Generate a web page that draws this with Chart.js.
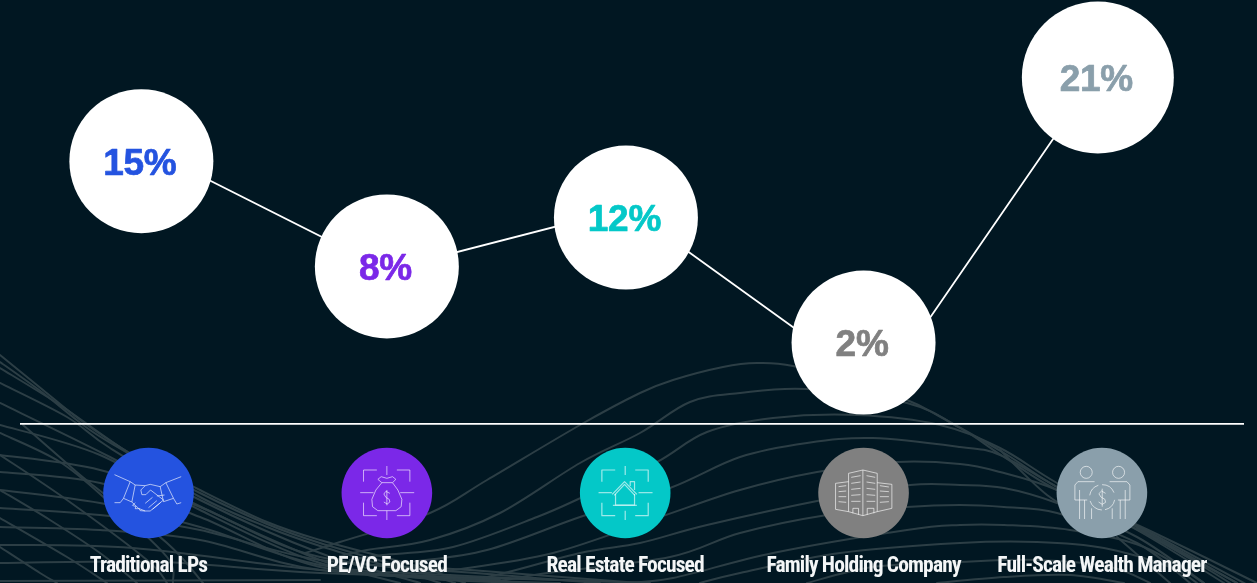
<!DOCTYPE html>
<html>
<head>
<meta charset="utf-8">
<style>html,body{margin:0;padding:0;background:#011722;overflow:hidden}#wrap{width:1257px;height:583px;position:relative}</style>
<script src="https://cdn.jsdelivr.net/npm/chart.js@4"></script>
</head>
<body>
<div id="wrap"><canvas id="c" width="1257" height="583"></canvas></div>
<script>
const categories = ['Traditional LPs','PE/VC Focused','Real Estate Focused','Family Holding Company','Full-Scale Wealth Manager'];
const percentValues = [15, 8, 12, 2, 21];
// The source is a hand-placed infographic: heights read off the picture, not strictly proportional to the printed percentages.
const bubbleHeights = [15, 7.45, 10.96, 2, 21];
const bubbleSlots = [-0.03, 1, 2.003, 3, 3.983];
// The connecting line does not run through the bubble centres in the source, so its vertices are read separately.
const lineHeights = [16.09, 7.2, 11.64, -1.4, 21.25];
const lineSlots = [-0.03, 1.003, 2.01, 3.07, 3.983];
const bubbleRadii = [72, 72, 72, 72, 76];
const seriesColors = ['#2453e0','#7b28e8','#04c8c8','#808080','#8a9fab'];

const BG = '#011722', WAVE = '#2c3e45';
const waves = [
[[305,553],[340,542],[430,513],[487,480],[580,425],[640,393],[673,380],[723,367],[757,363],[793,366],[860,385],[907,400],[937,415],[1004,453],[1057,487],[1137,527],[1237,583]],
[[340,556],[367,550],[430,540],[500,513],[580,463],[640,433],[690,402],[740,393],[807,389],[907,403],[960,428],[1004,457],[1057,490],[1144,528],[1257,583]],
[[350,560],[383,555],[453,547],[537,517],[587,495],[657,462],[707,432],[773,418],[857,415],[940,425],[1000,448],[1057,483],[1140,527],[1257,590]],
[[380,566],[410,562],[487,550],[580,517],[670,488],[740,457],[807,443],[873,438],[960,447],[1000,455],[1057,487],[1144,533],[1237,583]],
[[420,573],[453,570],[553,553],[660,517],[740,490],[817,472],[897,462],[960,464],[1000,472],[1057,490],[1137,530],[1224,583]],
[[440,579],[487,577],[580,553],[640,543],[707,525],[827,499],[910,485],[960,485],[1004,488],[1057,503],[1137,537],[1204,583]],
[[500,581],[547,573],[670,557],[740,533],[827,515],[907,507],[960,505],[1004,507],[1057,513],[1137,543],[1190,583]],
[[620,583],[673,578],[773,553],[907,530],[960,525],[1004,525],[1070,530],[1144,547],[1204,583]],
[[700,583],[740,573],[840,553],[960,543],[1037,542],[1104,548],[1170,567],[1197,583]],
[[807,583],[873,567],[960,562],[1037,560],[1110,567],[1150,583]],
[[937,583],[1004,577],[1070,575],[1124,583]],
[[1000,450],[1047,495],[1090,520]],
[[1117,537],[1170,583]],
[[1137,528],[1204,567],[1230,583]],
[[0,355],[43,390],[83,422],[133,455],[200,490],[267,522],[320,540],[420,567],[465,583]],
[[0,362],[43,393],[90,430],[140,460],[200,493],[267,524],[320,543],[420,572],[455,583]],
[[0,368],[60,405],[120,447],[200,497],[267,527],[320,546],[400,570],[440,583]],
[[0,383],[67,417],[110,448],[200,500],[320,553],[420,583]],
[[0,403],[110,457],[193,503],[320,560],[400,583]],
[[0,425],[100,455],[200,510],[320,563],[420,578],[520,583]],
[[0,455],[100,470],[200,507],[320,557],[500,575],[600,583]],
[[0,472],[100,483],[200,517],[320,567],[480,580],[560,583]],
[[0,490],[100,503],[200,527],[320,565],[450,575],[560,580],[650,583]],
[[0,508],[100,515],[200,530],[320,560],[470,570],[640,583]],
[[0,527],[100,530],[200,540],[320,570],[500,580]],
[[0,545],[133,548],[320,570],[480,578]],
[[0,563],[160,562],[320,573],[600,581]],
[[0,581],[320,580]],
[[23,425],[63,460],[90,483],[167,543],[203,583]],
[[0,433],[60,462],[110,503],[167,557],[173,583]],
[[0,455],[67,500],[147,560],[167,583]],
[[0,490],[50,520],[100,553],[137,583]],
[[0,518],[67,557],[107,583]],
[[0,547],[40,573],[57,583]]
];

function spline(ctx, pts){
  ctx.beginPath(); ctx.moveTo(pts[0][0], pts[0][1]);
  for(let i=0;i<pts.length-1;i++){
    const p0=pts[Math.max(i-1,0)],p1=pts[i],p2=pts[i+1],p3=pts[Math.min(i+2,pts.length-1)];
    ctx.bezierCurveTo(p1[0]+(p2[0]-p0[0])/6,p1[1]+(p2[1]-p0[1])/6,p2[0]-(p3[0]-p1[0])/6,p2[1]-(p3[1]-p1[1])/6,p2[0],p2[1]);
  }
  ctx.stroke();
}

const brackets = [
 [[85,125],[85,90],[125,90]],[[185,90],[224,90],[224,125]],[[85,188],[85,227],[125,227]],[[185,227],[224,227],[224,188]],
 [[155,78],[155,105]],[[155,212],[155,240]],[[75,158],[115,158]],[[195,158],[237,158]]
];
const iconArt = [
 {c:[160,159], w:1, lines:[
  [[58,104],[105,125]],[[105,125],[85,175],[110,186],[120,135],[105,125]],[[58,188],[75,188],[85,175]],
  [[258,110],[212,128]],[[212,128],[235,175],[205,185],[195,140],[212,128]],[[258,188],[245,192],[235,175]],
  [[120,135],[150,137],[165,133],[195,140]],
  [[150,137],[137,150],[140,164],[152,164],[166,150],[205,180]],
  [[205,180],[165,213],[150,213],[130,205],[110,186]],
  [[150,190],[172,172]],[[160,203],[185,182]],[[172,208],[196,188]],[[120,188],[112,196],[122,200],[120,206],[132,206],[135,212],[150,213]],
  [[185,168],[208,165]]
 ]},
 {c:[155,159], w:1, lines:brackets.concat([
  [[128,118],[138,110],[155,115],[172,110],[182,118],[172,128],[140,128],[128,118]],
  [[140,128],[122,150],[110,178],[112,200],[128,212],[182,212],[198,200],[200,178],[188,150],[172,128]],
  [[164,160],[152,154],[146,162],[152,172],[162,178],[164,186],[156,192],[146,186]],[[155,150],[155,196]]
 ])},
 {c:[157,159], w:1.2, lines:brackets.map(l=>l.map(p=>[p[0]+2,p[1]])).concat([
  [[118,163],[155,125],[192,163]],[[124,166],[155,133],[186,166]],[[128,162],[128,195],[185,195],[185,162]],
  [[120,196],[192,196]],[[172,138],[172,125],[185,125],[185,150]]
 ])},
 {c:[157,159], w:1, lines:[
  [[112,100],[155,90],[198,100],[198,215],[155,227],[112,215],[112,100]],[[155,90],[155,227]],
  [[112,125],[73,130],[73,208],[112,215]],[[198,128],[242,133],[242,205],[198,215]],
  [[120,112],[148,107]],[[120,130],[148,126]],[[120,148],[148,145]],[[120,166],[148,164]],[[120,184],[148,184]],
  [[166,107],[192,112]],[[166,126],[192,130]],[[166,145],[192,148]],[[166,164],[192,166]],[[166,184],[192,184]],
  [[82,140],[105,137]],[[82,155],[105,153]],[[82,170],[105,170]],[[82,185],[105,187]],
  [[206,137],[233,141]],[[206,153],[233,155]],[[206,170],[233,170]],[[206,187],[233,185]],
  [[125,220],[125,205],[142,205],[142,224]],[[168,224],[168,205],[188,205],[188,220]]
 ]},
 {c:[157,159], w:1, circles:[[110,97,18],[207,97,18]], arcs:[[158,172,38,0.2,1.35],[158,172,38,1.6,2.85],[158,172,38,3.3,4.4],[158,172,38,4.7,5.9]], lines:[
  [[135,125],[85,125],[76,135],[76,180]],[[90,150],[90,237]],[[105,180],[105,237]],[[76,180],[113,180]],
  [[180,125],[232,125],[241,135],[241,180]],[[227,150],[227,237]],[[212,180],[212,237]],[[205,180],[241,180]],
  [[126,205],[126,237]],[[188,205],[188,237]],
  [[168,160],[156,153],[148,161],[154,171],[166,178],[168,187],[158,193],[147,186]],[[158,146],[158,200]]
 ]}
];

const backdrop = {
  id:'backdrop',
  beforeDraw(chart){
    const ctx=chart.ctx; ctx.save();
    ctx.fillStyle=BG; ctx.fillRect(0,0,chart.width,chart.height);
    ctx.strokeStyle=WAVE; ctx.lineWidth=2; ctx.lineCap='round';
    waves.forEach(w=>spline(ctx,w));
    ctx.restore();
    ctx.letterSpacing='-0.85px';
  }
};
const iconsAndValues = {
  id:'iconsAndValues',
  afterDraw(chart){
    const ctx=chart.ctx, xs=chart.scales.x, cy=493, r=45.3;
    ctx.save();
    categories.forEach((_,i)=>{
      const cx=xs.getPixelForValue(i), a=iconArt[i];
      ctx.fillStyle=seriesColors[i];
      ctx.beginPath(); ctx.arc(cx,cy,r,0,Math.PI*2); ctx.fill();
      ctx.strokeStyle='rgba(255,255,255,.62)'; ctx.lineWidth=a.w; ctx.lineJoin='round';
      const X=v=>cx+(v-a.c[0])/3, Y=v=>cy+(v-a.c[1])/3;
      a.lines.forEach(l=>{ctx.beginPath();l.forEach((p,j)=>j?ctx.lineTo(X(p[0]),Y(p[1])):ctx.moveTo(X(p[0]),Y(p[1])));ctx.stroke();});
      (a.circles||[]).forEach(o=>{ctx.beginPath();ctx.arc(X(o[0]),Y(o[1]),o[2]/3,0,Math.PI*2);ctx.stroke();});
      (a.arcs||[]).forEach(o=>{ctx.beginPath();ctx.arc(X(o[0]),Y(o[1]),o[2]/3,o[3],o[4]);ctx.stroke();});
    });
    const pts=chart.getDatasetMeta(0).data;
    ctx.letterSpacing='-0.3px';
    ctx.font='700 37px "Liberation Sans", Arial, sans-serif';
    ctx.textAlign='center'; ctx.textBaseline='middle';
    ctx.lineWidth=0.7; ctx.lineJoin='round';
    percentValues.forEach((v,i)=>{
      ctx.fillStyle=seriesColors[i]; ctx.strokeStyle=seriesColors[i];
      ctx.fillText(v+'%',pts[i].x-1.5,pts[i].y+3.5);
      ctx.strokeText(v+'%',pts[i].x-1.5,pts[i].y+3.5);
    });
    ctx.restore();
  }
};

new Chart(document.getElementById('c'),{
  type:'line',
  data:{datasets:[{
    data:bubbleHeights.map((h,i)=>({x:bubbleSlots[i],y:h})),
    showLine:false,clip:false,order:1,
    pointRadius:bubbleRadii,pointHoverRadius:bubbleRadii,
    pointBackgroundColor:'#ffffff',pointBorderWidth:0
  },{
    data:lineHeights.map((h,i)=>({x:lineSlots[i],y:h})),
    borderColor:'#ffffff',borderWidth:1.8,tension:0,fill:false,clip:false,order:2,
    pointRadius:0
  }]},
  options:{
    responsive:false,animation:false,
    events:[],
    layout:{autoPadding:false,padding:{left:21,right:14,top:0,bottom:0}},
    plugins:{legend:{display:false},tooltip:{enabled:false}},
    scales:{
      x:{type:'linear',min:-0.535,max:4.592,
        afterBuildTicks(s){s.ticks=categories.map((_,i)=>({value:i}));},
        afterFit(s){s.height=159;s.paddingLeft=0;s.paddingRight=0;},
        grid:{display:false,drawTicks:false},
        border:{display:true,color:'#ffffff',width:1.8},
        ticks:{autoSkip:false,maxRotation:0,minRotation:0,padding:130,color:'#f4f6f7',
          font:{family:'"Liberation Sans Narrow","Roboto Condensed","Liberation Sans",sans-serif',size:21.5,weight:'700'},
          callback(v){return categories[v];}}
      },
      y:{display:false,min:-3.84,max:26.55}
    }
  },
  plugins:[backdrop,iconsAndValues]
});
</script>
</body>
</html>
